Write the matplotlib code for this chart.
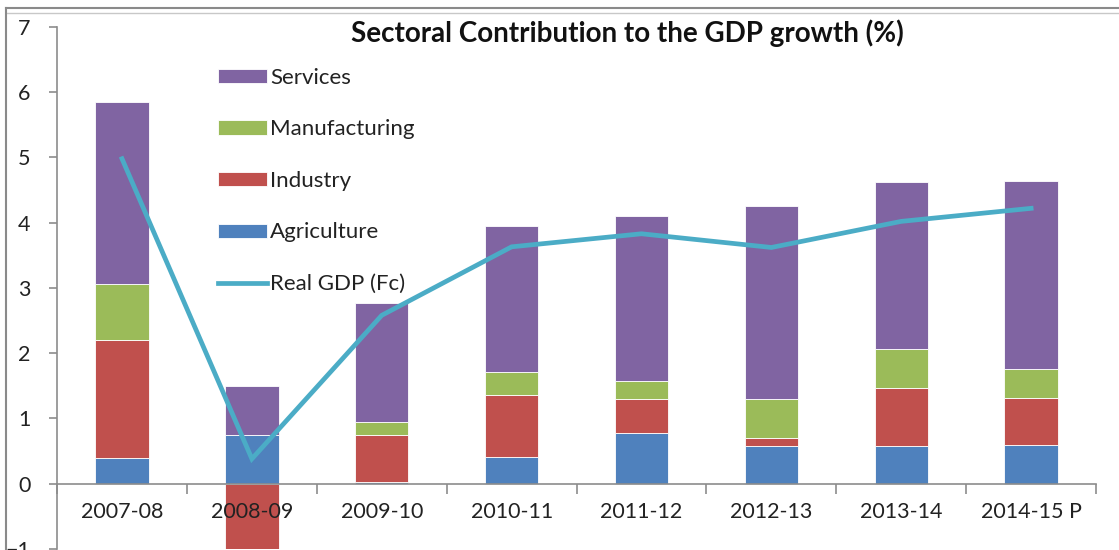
import numpy as np
import matplotlib.pyplot as plt
from matplotlib.lines import Line2D

plt.rcParams['font.family'] = ['Lato', 'DejaVu Sans']

years = ['2007-08', '2008-09', '2009-10', '2010-11', '2011-12', '2012-13', '2013-14', '2014-15 P']

# contribution of each sector, percentage points
agriculture = [0.40, 0.74, 0.02, 0.41, 0.77, 0.57, 0.57, 0.59]
industry = [1.80, -1.10, 0.72, 0.95, 0.52, 0.13, 0.90, 0.73]
manufacturing = [0.86, 0.00, 0.21, 0.35, 0.29, 0.59, 0.60, 0.44]
services = [2.79, 0.75, 1.82, 2.24, 2.52, 2.97, 2.55, 2.88]
real_gdp = [4.98, 0.38, 2.58, 3.63, 3.83, 3.62, 4.02, 4.22]

sectors = [
    ('Agriculture', agriculture, '#4F81BD'),
    ('Industry', industry, '#C0504D'),
    ('Manufacturing', manufacturing, '#9BBB59'),
    ('Services', services, '#8064A2'),
]

fig = plt.figure(figsize=(11.19, 5.50), dpi=100)
ax = fig.add_axes([0.051, 0.002, 0.9285, 0.949])
ax.set_axisbelow(False)

x = np.arange(len(years))
pos_base = np.zeros(len(years))
neg_base = np.zeros(len(years))
handles = {}
for name, vals, col in sectors:
    vals = np.array(vals)
    bottom = np.where(vals >= 0, pos_base, neg_base)
    bars = ax.bar(x, vals, 0.41, bottom=bottom, color=col,
                  edgecolor='#ffffff', linewidth=0.6, zorder=2)
    handles[name] = bars
    pos_base += np.where(vals >= 0, vals, 0)
    neg_base += np.where(vals < 0, vals, 0)

line, = ax.plot(x, real_gdp, color='#4BACC6', lw=3.4, zorder=3,
                solid_joinstyle='miter')

ax.set_xlim(-0.5, len(years) - 0.5)
ax.set_ylim(-1, 7)
ax.set_yticks(range(-1, 8))
ax.set_xticks(x)
ax.set_xticklabels(years)
ax.set_xticks(np.arange(-0.5, len(years)), minor=True)

for s in ['top', 'right']:
    ax.spines[s].set_visible(False)
ax.spines['bottom'].set_position(('data', 0))
ax.spines['bottom'].set_color('#8c8c8c')
ax.spines['left'].set_color('#8c8c8c')
ax.spines['bottom'].set_linewidth(1.2)
ax.spines['left'].set_linewidth(1.2)

ax.tick_params(axis='y', length=6, width=1.2, color='#8c8c8c',
               labelsize=15.5, pad=13, labelcolor='#222222')
ax.tick_params(axis='x', which='major', length=0, labelsize=15.5,
               pad=13, labelcolor='#222222')
ax.tick_params(axis='x', which='minor', length=7, width=1.2,
               color='#8c8c8c', direction='out')

fig.text(0.561, 0.94, 'Sectoral Contribution to the GDP growth (%)',
         ha='center', va='center', fontsize=20, fontweight='bold',
         color='#111111')

order = ['Services', 'Manufacturing', 'Industry', 'Agriculture']
leg = ax.legend([handles[n] for n in order] + [line], order + ['Real GDP (Fc)'],
                loc='upper left', bbox_to_anchor=(0.187, 0.893),
                bbox_transform=fig.transFigure, frameon=False,
                fontsize=16, handlelength=2.2, handleheight=0.6,
                labelspacing=1.42, handletextpad=0.15, borderaxespad=0)
for t in leg.get_texts():
    t.set_color('#222222')

# outer frame lines
fig.add_artist(Line2D([0.005, 1.0], [1 - 8 / 550, 1 - 8 / 550],
                      transform=fig.transFigure, color='#8a8a8a', lw=1.5))
fig.add_artist(Line2D([0.005, 1.0], [1 - 13 / 550, 1 - 13 / 550],
                      transform=fig.transFigure, color='#c8c8c8', lw=1.0))
fig.add_artist(Line2D([6 / 1119, 6 / 1119], [0, 1 - 8 / 550],
                      transform=fig.transFigure, color='#8a8a8a', lw=1.5))

fig.savefig('out.png', dpi=100)
